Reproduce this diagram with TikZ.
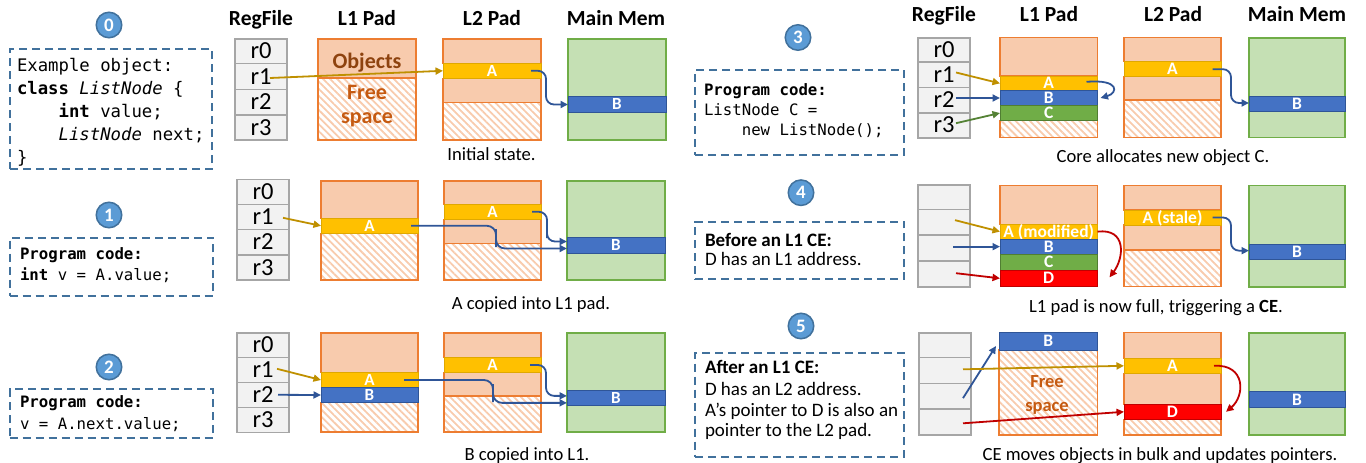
\documentclass[tikz,border=0pt]{standalone}
\usepackage{fontspec}
\setmainfont{Carlito}
\setmonofont{DejaVu Sans Mono}[ItalicFont={DejaVu Sans Mono Oblique},BoldFont={DejaVu Sans Mono Bold},BoldItalicFont={DejaVu Sans Mono Bold Oblique}]
\usetikzlibrary{arrows.meta,patterns.meta,calc}
\definecolor{peach}{HTML}{F8CBAD}
\definecolor{padbd}{HTML}{ED7D31}
\definecolor{regfill}{HTML}{F2F2F2}
\definecolor{regbd}{HTML}{A6A6A6}
\definecolor{memfill}{HTML}{C5E0B4}
\definecolor{membd}{HTML}{70AD47}
\definecolor{gold}{HTML}{FFC000}
\definecolor{goldbd}{HTML}{E0A800}
\definecolor{blueb}{HTML}{4472C4}
\definecolor{bluebd}{HTML}{2F5597}
\definecolor{greenb}{HTML}{70AD47}
\definecolor{greenbd}{HTML}{507E32}
\definecolor{redb}{HTML}{FF0000}
\definecolor{redbd}{HTML}{C00000}
\definecolor{goldarr}{HTML}{BF9000}
\definecolor{bluearr}{HTML}{2F5597}
\definecolor{greenarr}{HTML}{548235}
\definecolor{redarr}{HTML}{C00000}
\definecolor{circfill}{HTML}{5B9BD5}
\definecolor{circbd}{HTML}{41719C}
\definecolor{dashbd}{HTML}{41719C}
\definecolor{objcol}{HTML}{8E430F}
\definecolor{freecol}{HTML}{C55A11}
\newcommand\bx[7]{\node[#2,minimum width={#5pt-#3pt},minimum height={#6pt-#4pt}] (#1) at ({(#3+#5)/2},{(#4+#6)/2}) {#7};}
\tikzset{
 every node/.style={inner sep=0pt,outer sep=0pt},
 ttl/.style={anchor=base,font=\fontsize{21.5}{24}\selectfont\bfseries},
 regc/.style={draw=regbd,fill=regfill,line width=1.6pt,font=\fontsize{24.5}{26}\selectfont,text height=15.3pt,text depth=0pt},
 pch/.style={draw=padbd,fill=peach,line width=1.3pt},
 hch/.style={draw=padbd,line width=1.3pt,pattern={Lines[angle=-45,distance=5pt,line width=1.8pt]},pattern color=peach},
 memst/.style={draw=membd,fill=memfill,line width=1.6pt},
 bandL/.style={line width=1pt,text=white,font=\fontsize{17}{18}\selectfont\bfseries,text height=10.8pt,text depth=0pt},
 bandR/.style={line width=1pt,text=white,font=\fontsize{17.5}{19}\selectfont\bfseries,text height=11.1pt,text depth=0pt},
 gA/.style={fill=gold,draw=goldbd},
 bB/.style={fill=blueb,draw=bluebd},
 gC/.style={fill=greenb,draw=greenbd},
 rD/.style={fill=redb,draw=redbd},
 ptr/.style={-{Triangle[length=7.5pt,width=7pt]},line width=1.8pt},
 circ/.style={circle,fill=circfill,draw=circbd,line width=1.5pt,minimum size=25.5pt,text=white,font=\fontsize{19}{20}\selectfont\bfseries,text height=12pt,text depth=0pt},
 dbox/.style={draw=dashbd,line width=2pt,dash pattern=on 8pt off 5pt},
 codeA/.style={anchor=base west,font=\ttfamily\fontsize{17.3}{20}\selectfont},
 codeB/.style={anchor=base west,font=\ttfamily\fontsize{15.7}{18}\selectfont},
 btxt/.style={anchor=base west,font=\fontsize{19}{21}\selectfont},
 capt/.style={anchor=base,font=\fontsize{18.6}{20}\selectfont},
 objt/.style={anchor=base,font=\fontsize{22}{24}\selectfont\bfseries,text=objcol},
 freet/.style={anchor=base,font=\fontsize{22}{24}\selectfont\bfseries,text=freecol},
 freeS/.style={anchor=base,font=\fontsize{18.5}{20}\selectfont\bfseries,text=freecol},
}
\begin{document}
\begin{tikzpicture}[x=1pt,y=-1pt]
\useasboundingbox (0,0) rectangle (1366,463);
% titles
\node[ttl] (tl1) at (261,25) {RegFile};
\node[ttl] (tl2) at (367,25) {L1 Pad};
\node[ttl] (tl3) at (492,25) {L2 Pad};
\node[ttl] (tl4) at (616,25) {Main Mem};
\node[ttl] (tr1) at (944,21) {RegFile};
\node[ttl] (tr2) at (1049,21) {L1 Pad};
\node[ttl] (tr3) at (1173,21) {L2 Pad};
\node[ttl] (tr4) at (1297,21) {Main Mem};
% circles
\node[circ] (c0) at (109,25) {0};
\node[circ] (c1) at (109,215) {1};
\node[circ] (c2) at (109,367) {2};
\node[circ] (c3) at (798,37.5) {3};
\node[circ] (c4) at (801,192.7) {4};
\node[circ] (c5) at (801,326) {5};
% dashed boxes
\bx{b0}{dbox}{10}{49}{212}{169}{}
\bx{b1}{dbox}{9.6}{237.7}{213}{296}{}
\bx{b2}{dbox}{9.6}{389.3}{213}{437.7}{}
\bx{b3}{dbox}{695}{70}{904}{155}{}
\bx{b4}{dbox}{695}{221.7}{904}{279.3}{}
\bx{b5}{dbox}{695}{352.7}{904}{456.7}{}
% box texts
\node[codeA] (b0l1) at (17,71) {Example object:};
\node[codeA] (b0l2) at (17,94) {\textbf{class} \textit{ListNode} \{};
\node[codeA] (b0l3) at (17,117) {\phantom{xxxx}\textbf{int} value;};
\node[codeA] (b0l4) at (17,140) {\phantom{xxxx}\textit{ListNode} next;};
\node[codeA] (b0l5) at (17,163) {\}};
\node[codeB] (b1l1) at (20,259) {\textbf{Program code:}};
\node[codeB] (b1l2) at (20,280) {\textbf{int} v = A.value;};
\node[codeB] (b2l1) at (20,407.3) {\textbf{Program code:}};
\node[codeB] (b2l2) at (20,429) {v = A.next.value;};
\node[codeB] (b3l1) at (704,95) {\textbf{Program code:}};
\node[codeB] (b3l2) at (704,115.6) {ListNode C =};
\node[codeB] (b3l3) at (704,135.6) {\phantom{xxxx}new ListNode();};
\node[btxt] (b4l1) at (705,246.5) {\textbf{Before an L1 CE:}};
\node[btxt] (b4l2) at (705,265.5) {D has an L1 address.};
\node[btxt] (b5l1) at (705,373) {\textbf{After an L1 CE:}};
\node[btxt] (b5l2) at (705,395) {D has an L2 address.};
\node[btxt] (b5l3) at (705,416) {A’s pointer to D is also an};
\node[btxt] (b5l4) at (705,436) {pointer to the L2 pad.};
% ===== panel 0 =====
\bx{p0r0}{regc}{235}{39}{287}{63.5}{r0}
\bx{p0r1}{regc}{235}{63.5}{287}{89.3}{r1}
\bx{p0r2}{regc}{235}{89.3}{287}{115}{r2}
\bx{p0r3}{regc}{235}{115}{287}{140}{r3}
\bx{p0L1o}{pch}{318}{39}{416}{78}{}
\bx{p0L1f}{hch}{318}{78}{416}{140}{}
\bx{p0L2a}{pch}{443}{39}{541}{63.3}{}
\bx{p0L2b}{pch}{443}{78.3}{541}{102.7}{}
\bx{p0L2h}{hch}{443}{102.7}{541}{140}{}
\bx{p0M}{memst}{568}{39}{666}{140}{}
\bx{p0L2A}{bandL,gA}{443}{63.3}{541}{78.3}{A}
\bx{p0MB}{bandL,bB}{568}{96.7}{666}{112.3}{B}
\node[objt] (p0obj) at (367,68) {Objects};
\node[freet] (p0fr1) at (367,99.5) {Free};
\node[freet] (p0fr2) at (367,123) {space};
\draw[ptr,goldarr] ($(p0r1.center)+(9,1.6)$) -- (p0L2A.west);
\draw[ptr,bluearr,rounded corners=8pt] ($(p0L2A.east)+(-10,0)$) -| (546,88) |- (p0MB.west);
\node[capt] (cap0) at (491.5,160.5) {Initial state.};
% ===== panel 1 =====
\bx{p1r0}{regc}{237}{179.3}{289}{204.3}{r0}
\bx{p1r1}{regc}{237}{204.3}{289}{229.3}{r1}
\bx{p1r2}{regc}{237}{229.3}{289}{255}{r2}
\bx{p1r3}{regc}{237}{255}{289}{280}{r3}
\bx{p1L1a}{pch}{321}{181}{418}{218.3}{}
\bx{p1L1h}{hch}{321}{233.3}{418}{280}{}
\bx{p1L2a}{pch}{444}{181}{541}{204.3}{}
\bx{p1L2b}{pch}{444}{219.3}{541}{243.3}{}
\bx{p1L2h}{hch}{444}{243.3}{541}{280}{}
\bx{p1M}{memst}{567}{181}{665}{280}{}
\bx{p1L1A}{bandL,gA}{321}{218.3}{418}{233.3}{A}
\bx{p1L2A}{bandL,gA}{444}{204.3}{541}{219.3}{A}
\bx{p1MB}{bandL,bB}{567}{237.7}{665}{253.3}{B}
\draw[ptr,goldarr] ($(p1r1.center)+(20,1)$) -- (p1L1A.west);
\draw[ptr,bluearr,rounded corners=8pt] ($(p1L2A.east)+(-9,0)$) -| (547,230) |- ($(p1MB.west)+(0,-4)$);
\draw[ptr,bluearr,rounded corners=9pt] ($(p1L1A.east)+(-7,0)$) -| (496,238) |- ($(p1MB.west)+(0,3)$);
\node[capt] (cap1) at (531,309) {A copied into L1 pad.};
% ===== panel 2 =====
\bx{p2r0}{regc}{237}{332.7}{289}{357.3}{r0}
\bx{p2r1}{regc}{237}{357.3}{289}{382.3}{r1}
\bx{p2r2}{regc}{237}{382.3}{289}{407.3}{r2}
\bx{p2r3}{regc}{237}{407.3}{289}{432.3}{r3}
\bx{p2L1a}{pch}{321}{333}{418}{372.7}{}
\bx{p2L1h}{hch}{321}{402.7}{418}{432}{}
\bx{p2L2a}{pch}{444}{333}{541}{357.3}{}
\bx{p2L2b}{pch}{444}{372.7}{541}{396}{}
\bx{p2L2h}{hch}{444}{396}{541}{432}{}
\bx{p2M}{memst}{567}{333}{665}{432}{}
\bx{p2L1A}{bandL,gA}{321}{372.7}{418}{387.3}{A}
\bx{p2L1B}{bandL,bB}{321}{387.3}{418}{402.7}{B}
\bx{p2L2A}{bandL,gA}{444}{357.3}{541}{372.7}{A}
\bx{p2MB}{bandL,bB}{567}{390}{665}{405.7}{B}
\draw[ptr,goldarr] ($(p2r1.center)+(14,-1)$) -- (p2L1A.west);
\draw[ptr,bluearr] ($(p2r2.center)+(15,0)$) -- (p2L1B.west);
\draw[ptr,bluearr,rounded corners=9pt] ($(p2L1A.east)+(-14,0)$) -| (493,393) |- ($(p2MB.west)+(0,5)$);
\draw[ptr,bluearr,rounded corners=8pt] ($(p2L2A.east)+(-11,0)$) -| (546,380) |- ($(p2MB.west)+(0,-2)$);
\node[capt] (cap2) at (527,460) {B copied into L1.};
% ===== panel 3 =====
\bx{p3r0}{regc}{918}{37.7}{970}{61.7}{r0}
\bx{p3r1}{regc}{918}{61.7}{970}{87.3}{r1}
\bx{p3r2}{regc}{918}{87.3}{970}{112.7}{r2}
\bx{p3r3}{regc}{918}{112.7}{970}{137.7}{r3}
\bx{p3L1a}{pch}{1000}{37.7}{1097.5}{76}{}
\bx{p3L1h}{hch}{1000}{120.7}{1097.5}{137.5}{}
\bx{p3L2a}{pch}{1124}{37.7}{1221}{61.7}{}
\bx{p3L2b}{pch}{1124}{76.7}{1221}{100}{}
\bx{p3L2h}{hch}{1124}{100}{1221}{137.5}{}
\bx{p3M}{memst}{1249}{37.7}{1345}{137.5}{}
\bx{p3L1A}{bandR,gA}{1000}{76}{1097.5}{90.7}{A}
\bx{p3L1B}{bandR,bB}{1000}{90.7}{1097.5}{105.3}{B}
\bx{p3L1C}{bandR,gC}{1000}{105.3}{1097.5}{120.7}{C}
\bx{p3L2A}{bandR,gA}{1124}{61.7}{1221}{76.7}{A}
\bx{p3MB}{bandR,bB}{1249}{96}{1345}{111}{B}
\draw[ptr,goldarr] ($(p3r1.center)+(12,-2)$) -- (p3L1A.west);
\draw[ptr,bluearr] ($(p3r2.center)+(12,-2)$) -- (p3L1B.west);
\draw[ptr,greenarr] ($(p3r3.center)+(12,-2)$) -- (p3L1C.west);
\draw[ptr,bluearr] ($(p3L1A.east)+(-11,-1.5)$) .. controls (1120,79) and (1118,93) .. ($(p3L1B.east)+(3,0)$);
\draw[ptr,bluearr,rounded corners=8pt] ($(p3L2A.east)+(-8.5,0)$) -| (1231,85) |- ($(p3MB.west)+(0,-0.5)$);
\node[capt] (cap3) at (1163,162.5) {Core allocates new object C.};
% ===== panel 4 =====
\bx{p4r0}{regc}{918}{185}{970}{209.3}{}
\bx{p4r1}{regc}{918}{209.3}{970}{235}{}
\bx{p4r2}{regc}{918}{235}{970}{260.7}{}
\bx{p4r3}{regc}{918}{260.7}{970}{286.7}{}
\bx{p4L1a}{pch}{1000}{185.5}{1097.5}{224.3}{}
\bx{p4L2a}{pch}{1124}{185.5}{1221}{210}{}
\bx{p4L2b}{pch}{1124}{225}{1221}{250}{}
\bx{p4L2h}{hch}{1124}{250}{1221}{286.7}{}
\bx{p4M}{memst}{1249}{185.5}{1345}{286.7}{}
\bx{p4L1A}{bandR,gA}{1000}{224.3}{1097.5}{239}{A (modified)}
\bx{p4L1B}{bandR,bB}{1000}{239}{1097.5}{254.3}{B}
\bx{p4L1C}{bandR,gC}{1000}{254.3}{1097.5}{270}{C}
\bx{p4L1D}{bandR,rD}{1000}{270}{1097.5}{286.7}{D}
\bx{p4L2A}{bandR,gA}{1124}{210}{1221}{225}{A (stale)}
\bx{p4MB}{bandR,bB}{1249}{244}{1345}{259.3}{B}
\draw[ptr,goldarr] ($(p4r1.center)+(11,-2)$) -- (p4L1A.west);
\draw[ptr,bluearr] ($(p4r2.center)+(9,-1.2)$) -- (p4L1B.west);
\draw[ptr,redarr] ($(p4r3.center)+(12,-0.5)$) -- (p4L1D.west);
\draw[ptr,redarr] (p4L1A.east) .. controls (1127,228) and (1124,258) .. ($(p4L1D.east)+(12,-1)$);
\draw[ptr,bluearr,rounded corners=8pt] ($(p4L2A.east)+(-8.5,0)$) -| (1231,235) |- ($(p4MB.west)+(0,-1)$);
\node[capt] (cap4) at (1156,312) {L1 pad is now full, triggering a \textbf{CE}.};
% ===== panel 5 =====
\bx{p5r0}{regc}{919}{332.7}{971}{357.3}{}
\bx{p5r1}{regc}{919}{357.3}{971}{383.3}{}
\bx{p5r2}{regc}{919}{383.3}{971}{409}{}
\bx{p5r3}{regc}{919}{409}{971}{435}{}
\bx{p5L1h}{hch}{999}{350}{1097.5}{435}{}
\bx{p5L2a}{pch}{1124}{332.7}{1221}{358.3}{}
\bx{p5L2b}{pch}{1124}{373.3}{1221}{404.3}{}
\bx{p5L2h}{hch}{1124}{419.3}{1221}{435}{}
\bx{p5M}{memst}{1249}{332.7}{1345}{435}{}
\bx{p5L1B}{bandR,bB}{999}{332.7}{1097.5}{350}{B}
\bx{p5L2A}{bandR,gA}{1124}{358.3}{1221}{373.3}{A}
\bx{p5L2D}{bandR,rD}{1124}{404.3}{1221}{419.3}{D}
\bx{p5MB}{bandR,bB}{1249}{391.7}{1345}{407.3}{B}
\node[freeS] (p5fr1) at (1047,387) {Free};
\node[freeS] (p5fr2) at (1047,411) {space};
\draw[ptr,bluearr] ($(p5r2.center)+(18,2)$) -- ($(p5L1B.south west)+(-3,-4)$);
\draw[ptr,goldarr] ($(p5r1.center)+(18,-1)$) -- (p5L2A.west);
\draw[ptr,redarr] ($(p5r3.center)+(18,1.3)$) -- (p5L2D.west);
\draw[ptr,redarr] ($(p5L2A.east)+(-7,0)$) .. controls (1246,364) and (1245,396) .. ($(p5L2D.east)+(5,0)$);
\node[capt] (cap5) at (1160,460) {CE moves objects in bulk and updates pointers.};
\end{tikzpicture}
\end{document}
